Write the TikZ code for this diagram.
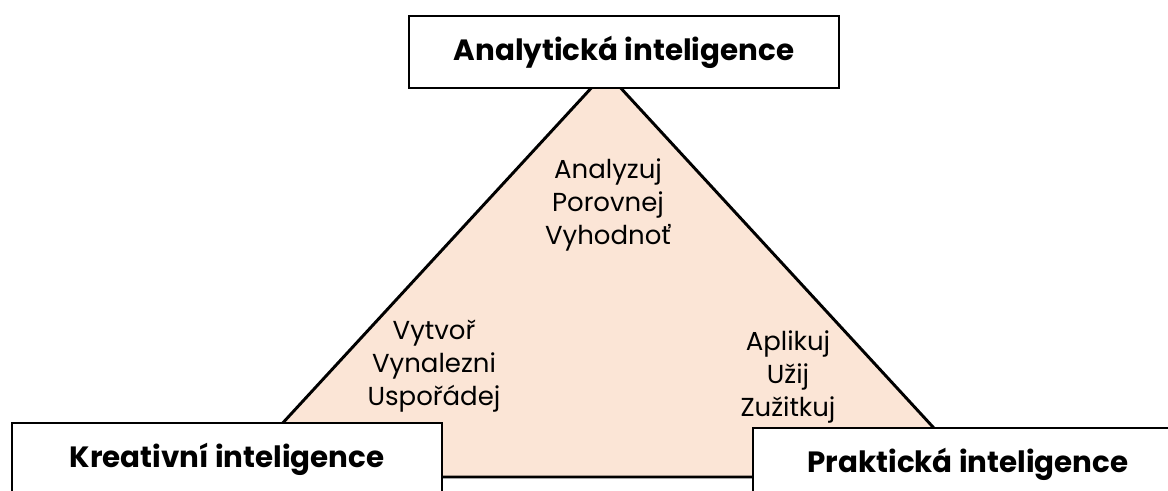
\documentclass[tikz,border=0pt]{standalone}
\usepackage{fontspec}
\setmainfont{Poppins}
\usepackage{xcolor}
\definecolor{peach}{HTML}{FBE5D6}
\definecolor{dark}{HTML}{000000}
\tikzset{
  titlebox/.style={draw=dark, line width=2.2pt, fill=white, minimum width=322.5pt, minimum height=54pt, inner sep=0pt, font=\fontsize{22}{26}\selectfont\bfseries},
  verbs/.style={align=center, inner sep=0pt, font=\fontsize{19.5}{24.5}\selectfont},
  edge/.style={draw=dark, line width=2.2pt}
}
\begin{document}
\begin{tikzpicture}[x=0.75pt, y=-0.75pt]
  \clip (0,0) rectangle (1168,490);
  % triangle
  \coordinate (apex) at (606,72);
  \coordinate (left) at (233,477);
  \coordinate (right) at (979,477);
  \draw[edge, fill=peach] (apex) -- (left) -- (right) -- cycle;
  \node[verbs] (analyze) at (608,205) {Analyzuj\\Porovnej\\Vyhodnoť};
  \node[verbs] (create) at (434,366) {Vytvoř\\Vynalezni\\Uspořádej};
  \node[verbs] (apply) at (788,377) {Aplikuj\\Užij\\Zužitkuj};
  % boxes
  \node[titlebox] (analytic) at (624,52) {Analytická inteligence};
  \node[titlebox] (creative) at (227,459) {Kreativní inteligence};
  \node[titlebox] (practical) at (968,464) {Praktická inteligence};
\end{tikzpicture}
\end{document}
